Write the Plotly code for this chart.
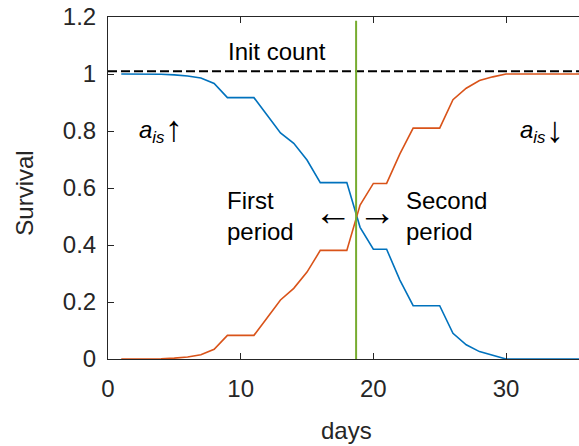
import plotly.graph_objects as go

days = list(range(1, 37))
survival_first = [1.0, 1.0, 1.0, 0.999, 0.997, 0.993, 0.986, 0.967, 0.917, 0.917,
                  0.917, 0.855, 0.793, 0.757, 0.698, 0.619, 0.619, 0.619, 0.462, 0.385,
                  0.385, 0.277, 0.187, 0.187, 0.187, 0.09, 0.05, 0.026, 0.012, 0.0,
                  0.0, 0.0, 0.0, 0.0, 0.0, 0.0]
survival_second = [0.0, 0.0, 0.0, 0.001, 0.003, 0.007, 0.015, 0.034, 0.083, 0.083,
                   0.083, 0.145, 0.207, 0.248, 0.305, 0.381, 0.381, 0.381, 0.54, 0.616,
                   0.616, 0.72, 0.81, 0.81, 0.81, 0.91, 0.95, 0.977, 0.99, 1.0,
                   1.0, 1.0, 1.0, 1.0, 1.0, 1.0]
init_count = 1.01
init_x = [0, 40]
split_day = 18.7
split_y = [0, 1.187]

x_ticks = [0, 10, 20, 30, 40]
y_ticks = [0, 0.2, 0.4, 0.6, 0.8, 1.0, 1.2]
y_tick_labels = ["0", "0.2", "0.4", "0.6", "0.8", "1", "1.2"]

FONT = "Liberation Sans, Arial, Helvetica, sans-serif"
AX = "#262626"

fig = go.Figure()
fig.add_trace(go.Scatter(x=init_x, y=[init_count, init_count], mode="lines",
                         line=dict(color="black", width=2, dash="9px,4px"), showlegend=False))
fig.add_trace(go.Scatter(x=days, y=survival_first, mode="lines",
                         line=dict(color="#0072BD", width=1.6), showlegend=False))
fig.add_trace(go.Scatter(x=days, y=survival_second, mode="lines",
                         line=dict(color="#D95319", width=1.6), showlegend=False))
fig.add_trace(go.Scatter(x=[split_day, split_day], y=split_y, mode="lines",
                         line=dict(color="#77AC30", width=2), showlegend=False))

ann = []
def txt(x, y, t, size=24, xanchor="center", align="center", family=FONT):
    ann.append(dict(x=x, y=y, xref="x", yref="y", text=t, showarrow=False,
                    font=dict(family=family, size=size, color="black"),
                    xanchor=xanchor, yanchor="middle", align=align))

txt(12.75, 1.078, "Init count")
txt(3.3, 0.80, "<i>a</i><sub><i>is</i></sub>")
txt(5.0, 0.81, "↑", size=36)
txt(32.0, 0.797, "<i>a</i><sub><i>is</i></sub>")
txt(33.7, 0.807, "↓", size=36)
txt(8.82, 0.503, "First<br>period", xanchor="left", align="left")
txt(22.31, 0.503, "Second<br>period", xanchor="left", align="left")
txt(16.98, 0.515, "←", size=38)
txt(20.25, 0.515, "→", size=38)

ann.append(dict(x=0, y=0.58, xref="paper", yref="y", text="Survival", showarrow=False,
                textangle=-90, xanchor="center", yanchor="middle", xshift=-83,
                font=dict(family=FONT, size=24, color=AX)))
ann.append(dict(x=(346 - 108) / 471, y=0, xref="paper", yref="paper", text="days",
                showarrow=False, xanchor="center", yanchor="middle", yshift=-71,
                font=dict(family=FONT, size=24, color=AX)))

fig.update_layout(
    width=579, height=446,
    margin=dict(l=108, r=0, t=17, b=87),
    paper_bgcolor="white", plot_bgcolor="white",
    annotations=ann,
    font=dict(family=FONT, size=24, color=AX),
)
fig.update_xaxes(range=[0, 35.5], tickvals=x_ticks, ticks="inside", ticklen=6,
                 tickcolor=AX, showline=True, linecolor=AX, linewidth=1,
                 mirror="ticks", showgrid=False, zeroline=False,
                 tickfont=dict(family=FONT, size=24, color=AX), ticklabelstandoff=8)
fig.update_yaxes(range=[0, 1.2], tickvals=y_ticks, ticktext=y_tick_labels,
                 ticks="inside", ticklen=6, tickcolor=AX, showline=True,
                 linecolor=AX, linewidth=1, mirror=False, showgrid=False,
                 zeroline=False, tickfont=dict(family=FONT, size=24, color=AX),
                 ticklabelstandoff=6)

fig.write_html("out.html")
